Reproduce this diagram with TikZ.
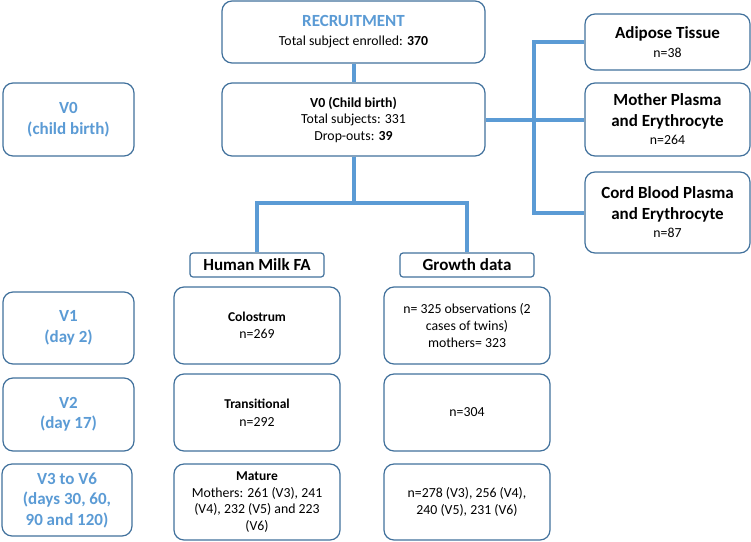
\documentclass[tikz,border=0pt]{standalone}
\usepackage{fontspec}
\setmainfont{Carlito}
\definecolor{edgeblue}{HTML}{41719C}
\definecolor{lineblue}{HTML}{5B9BD5}
\newcommand{\vhead}{\fontsize{17}{20.5}\selectfont\bfseries}
\newcommand{\vbody}{\fontsize{13.8}{16.5}\selectfont\mdseries}
\newcommand{\vlabel}{\fontsize{13.5}{16.5}\selectfont\bfseries}

\begin{document}
\begin{tikzpicture}[x=1pt, y=-1pt, box/.style={draw=edgeblue, line width=1.2pt, rounded corners=10pt, fill=white, align=center, inner sep=1pt, font=\vbody}, tag/.style={box, rounded corners=3pt, font=\vhead}, visit/.style={box, text=lineblue, font=\vhead}, link/.style={draw=lineblue, line width=4pt}]
  \useasboundingbox (0,0) rectangle (751,541);
  \node[box, minimum width=263, minimum height=62] (rec) at (353.5,32) {{\vhead\color{lineblue}RECRUITMENT}\\[2.5pt]Total subject enrolled: \textbf{370}};
  \node[box, minimum width=263, minimum height=73] (v0) at (353.5,119.5) {\textbf{V0 (Child birth)}\\Total subjects: 331\\Drop-outs: \textbf{39}};
  \node[visit, minimum width=131, minimum height=73] (lv0) at (68.5,119.5) {V0\\(child birth)};
  \node[box, minimum width=165, minimum height=56] (adi) at (667.5,42) {\vhead Adipose Tissue\\[2.5pt]\vbody n=38};
  \node[box, minimum width=165, minimum height=73] (mot) at (667.5,119.5) {\vhead Mother Plasma\\[4.5pt]\vhead and Erythrocyte\\[1.5pt]\vbody n=264};
  \node[box, minimum width=165, minimum height=81] (cord) at (667.5,212.5) {\vhead Cord Blood Plasma\\[4.5pt]\vhead and Erythrocyte\\[1.5pt]\vbody n=87};
  \node[tag, minimum width=134, minimum height=24] (hm) at (257,265) {Human Milk FA};
  \node[tag, minimum width=134, minimum height=24] (gd) at (467,265) {Growth data};
  \node[visit, minimum width=131, minimum height=72] (lv1) at (68.5,328) {V1\\(day 2)};
  \node[visit, minimum width=131, minimum height=73] (lv2) at (68.5,414.5) {V2\\(day 17)};
  \node[visit, minimum width=130, minimum height=72] (lv3) at (67,500) {V3 to V6\\(days 30, 60,\\90 and 120)};
  \node[box, minimum width=166, minimum height=77] (col) at (257,325.5) {{\vlabel Colostrum}\\[1pt]n=269};
  \node[box, minimum width=166, minimum height=77] (tra) at (257,412.5) {{\vlabel Transitional}\\[1pt]n=292};
  \node[box, minimum width=166, minimum height=76] (mat) at (257,502) {{\vlabel Mature}\\Mothers: 261 (V3), 241\\(V4), 232 (V5) and 223\\(V6)};
  \node[box, minimum width=166, minimum height=77] (g1) at (467,325.5) {n= 325 observations (2\\cases of twins)\\mothers= 323};
  \node[box, minimum width=166, minimum height=77] (g2) at (467,412.5) {n=304};
  \node[box, minimum width=166, minimum height=76] (g3) at (467,502) {n=278 (V3), 256 (V4),\\240 (V5), 231 (V6)};
  \coordinate (split) at (353.5,203);
  \draw[link] (rec.south) -- (v0.north); \draw[link] (v0.south) -- (split); \draw[link] (hm.north) |- (split) -| (gd.north);
  \draw[link] (v0.east) -- (mot.west); \draw[link] (adi.west) -- ++(-50,0) |- (cord.west);
\end{tikzpicture}
\end{document}
